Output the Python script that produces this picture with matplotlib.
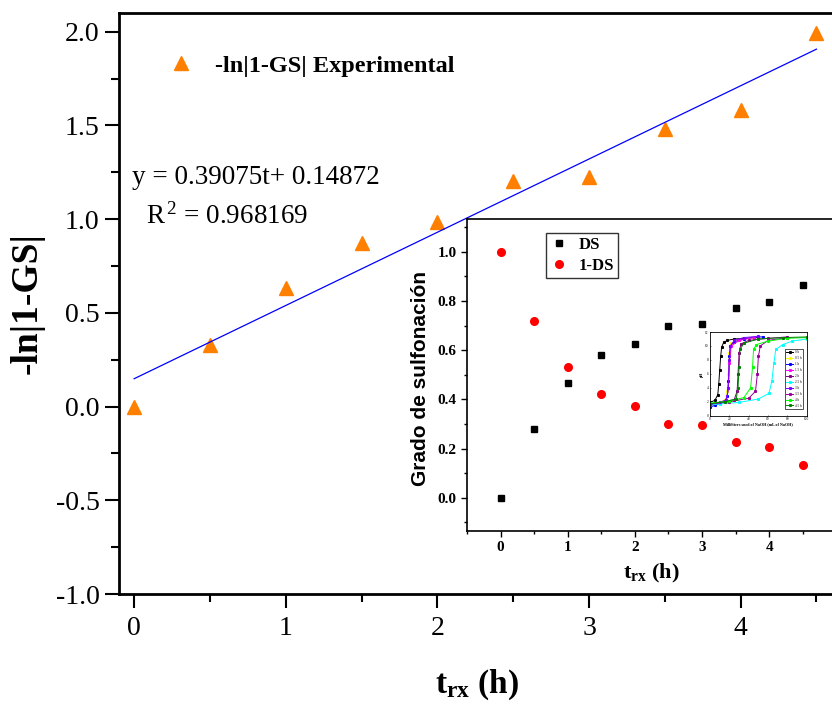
import numpy as np
import matplotlib
matplotlib.use('Agg')
import matplotlib.pyplot as plt
from matplotlib.ticker import MultipleLocator

plt.rcParams['font.family'] = 'serif'
plt.rcParams['font.serif'] = ['Liberation Serif', 'DejaVu Serif']
plt.rcParams['mathtext.fontset'] = 'custom'
plt.rcParams['mathtext.rm'] = 'Liberation Serif'
plt.rcParams['mathtext.it'] = 'Liberation Serif:italic'
plt.rcParams['mathtext.bf'] = 'Liberation Serif:bold'

# main plot: -ln|1-GS| vs time
t = [0, 0.5, 1.0, 1.5, 2.0, 2.5, 3.0, 3.5, 4.0, 4.5]
ln_gs = [0.0, 0.33, 0.635, 0.875, 0.985, 1.205, 1.225, 1.483, 1.585, 1.995]
slope = 0.39075
intercept = 0.14872

# inset: degree of sulfonation
ds = [0.0, 0.28, 0.467, 0.58, 0.625, 0.70, 0.706, 0.773, 0.795, 0.865]
one_minus_ds = [1.0, 0.72, 0.533, 0.42, 0.375, 0.30, 0.294, 0.227, 0.205, 0.135]

# small inset: titration curves (mL NaOH, pH)
titr_labels = ['0 h', '0.5 h', '1 h', '1.5 h', '2 h', '2.5 h', '3 h', '3.5 h', '4 h', '4.5 h']
titr_colors = ['#000000', '#FFFF00', '#0000FF', '#FF00FF', '#800080',
               '#00FFFF', '#8000FF', '#990099', '#00FF00', '#008000']
titr_ml = [
    [0, 5, 8, 9, 10, 11, 12, 14, 18, 25, 35, 50],
    [0, 10, 16, 18, 19, 20, 22, 30, 45],
    [0, 5, 15, 18, 19, 20, 21, 25, 35, 50, 55],
    [0, 10, 17, 19, 20, 22, 30, 45],
    [0, 10, 25, 28, 29, 30, 32, 40, 60, 80],
    [0, 10, 30, 50, 61, 64, 66, 68, 75, 85, 100],
    [0, 10, 17, 19, 20, 21, 25, 35, 50],
    [0, 20, 40, 47, 49, 50, 52, 60, 80],
    [0, 20, 35, 42, 44, 45, 48, 60, 80, 100],
    [0, 15, 27, 29, 30, 31, 35, 50, 75, 100],
]
titr_ph = [
    [1.9, 2.2, 3.0, 4.5, 6.5, 8.5, 9.8, 10.5, 10.8, 11.0, 11.1, 11.2],
    [1.7, 1.9, 2.3, 3.5, 6.0, 9.0, 10.4, 10.9, 11.1],
    [1.2, 1.5, 2.0, 2.8, 5.0, 8.5, 10.0, 10.6, 11.0, 11.3, 11.3],
    [1.5, 1.8, 2.2, 4.0, 7.5, 10.0, 10.8, 11.2],
    [1.6, 1.9, 2.3, 3.5, 6.0, 9.0, 10.3, 10.8, 11.1, 11.3],
    [1.5, 1.7, 1.9, 2.4, 3.2, 5.0, 7.5, 9.5, 10.2, 10.7, 11.0],
    [1.6, 1.9, 2.3, 4.0, 8.0, 10.0, 10.8, 11.2, 11.4],
    [1.7, 2.0, 2.5, 3.5, 6.0, 8.5, 10.0, 10.8, 11.2],
    [1.8, 2.1, 2.6, 4.0, 7.0, 9.5, 10.2, 10.7, 11.1, 11.2],
    [1.7, 2.0, 2.4, 4.0, 7.0, 9.5, 10.4, 11.0, 11.2, 11.3],
]

fig = plt.figure(figsize=(8.32, 7.06), dpi=100)

# ---- main axes
ax = fig.add_axes([0.143, 0.1586, 0.893, 0.823])
ax.plot(t, ln_gs, linestyle='none', marker='^', markersize=10, color='#FF8000',
        label='-ln|1-GS| Experimental')
tfit = np.array([t[0], t[-1]])
ax.plot(tfit, slope * tfit + intercept, color='#0000FF', linewidth=0.9)
ax.set_xlim(-0.1, 4.8)
ax.set_ylim(-1.0, 2.1)
ax.xaxis.set_major_locator(MultipleLocator(1))
ax.xaxis.set_minor_locator(MultipleLocator(0.5))
ax.yaxis.set_minor_locator(MultipleLocator(0.25))
ax.set_yticks([-1.0, -0.5, 0.0, 0.5, 1.0, 1.5, 2.0])
ax.set_yticklabels(['-1.0', '-0.5', '0.0', '0.5', '1.0', '1.5', '2.0'])
ax.tick_params(which='both', direction='out', top=False, right=False, width=1.5, labelsize=20)
ax.tick_params(which='major', length=10)
ax.tick_params(which='minor', length=6)
ax.tick_params(axis='x', pad=6)
ax.tick_params(axis='y', pad=4)
for s in ax.spines.values():
    s.set_linewidth(2)
ax.set_ylabel('-ln|1-GS|', fontsize=27, fontweight='bold')
ax.yaxis.set_label_coords(-0.1, 0.5)
ax.set_xlabel(r'$\mathbf{t_{rx}}$ (h)', fontsize=24, fontweight='bold')
ax.xaxis.set_label_coords(0.482, -0.127)
ax.legend(loc='upper left', bbox_to_anchor=(0.035, 0.966), frameon=False,
          prop={'size': 17.5, 'weight': 'bold'}, handletextpad=0.8, handlelength=1.2)
ax.text(0.017, 0.717, 'y = 0.39075t+ 0.14872', transform=ax.transAxes, fontsize=19.5,
        va='center', ha='left')
ax.text(0.036, 0.65, r'R$^{\,2}$ = 0.968169', transform=ax.transAxes, fontsize=19.5,
        va='center', ha='left')

# ---- inset
ins = fig.add_axes([0.5613, 0.2479, 0.444, 0.4419])
ins.set_facecolor('white')
ins.plot(t, ds, linestyle='none', marker='s', markersize=5, color='black', label='DS')
ins.plot(t, one_minus_ds, linestyle='none', marker='o', markersize=5.5, color='red', label='1-DS')
ins.set_xlim(-0.5, 5)
ins.set_ylim(-0.135, 1.133)
ins.set_xticks([0, 1, 2, 3, 4])
ins.xaxis.set_minor_locator(MultipleLocator(0.5))
ins.yaxis.set_major_locator(MultipleLocator(0.2))
ins.yaxis.set_minor_locator(MultipleLocator(0.1))
ins.tick_params(which='both', direction='out', top=False, right=False, width=1, labelsize=11)
ins.tick_params(which='major', length=4)
ins.tick_params(which='minor', length=2.5)
for lab in ins.get_xticklabels() + ins.get_yticklabels():
    lab.set_fontweight('bold')
ins.yaxis.set_major_formatter(matplotlib.ticker.FormatStrFormatter('%.1f'))
for s in ins.spines.values():
    s.set_linewidth(1.2)
ins.set_ylabel('Grado de sulfonación', fontsize=15, fontweight='bold', family='Liberation Sans')
ins.yaxis.set_label_coords(-0.1, 0.49)
ins.set_xlabel(r'$\mathbf{t_{rx}}$ (h)', fontsize=16, fontweight='bold')
ins.xaxis.set_label_coords(0.5, -0.1)
leg = ins.legend(loc='upper left', bbox_to_anchor=(0.214, 0.955), borderaxespad=0,
                 fancybox=False, edgecolor='black', prop={'size': 12, 'weight': 'bold'},
                 handletextpad=0.7, handlelength=1.0, borderpad=0.25, labelspacing=0.3)
leg.get_frame().set_linewidth(1)

# ---- small inset with titration curves
ti = fig.add_axes([0.8534, 0.4112, 0.1162, 0.1185])
for ml, ph, c, lb in zip(titr_ml, titr_ph, titr_colors, titr_labels):
    ti.plot(ml, ph, color=c, linewidth=0.7, marker='s', markersize=1.2, label=lb)
ti.set_xlim(0, 100)
ti.set_ylim(0, 12)
ti.set_xticks([0, 20, 40, 60, 80, 100])
ti.set_yticks([0, 2, 4, 6, 8, 10, 12])
ti.tick_params(direction='in', length=1, width=0.4, labelsize=2.5, pad=1)
for s in ti.spines.values():
    s.set_linewidth(0.6)
ti.set_xlabel('Milliliters used of NaOH (mL of NaOH)', fontsize=3, fontweight='bold', labelpad=1)
ti.set_ylabel('pH', fontsize=3, fontweight='bold', labelpad=1)
tleg = ti.legend(loc='upper left', bbox_to_anchor=(0.776, 0.797), borderaxespad=0,
                 fancybox=False, edgecolor='black', fontsize=2.3, handlelength=2.2,
                 labelspacing=0.6, borderpad=0.4, handletextpad=0.4)
tleg.get_frame().set_linewidth(0.6)

fig.savefig('out.png', dpi=100)
